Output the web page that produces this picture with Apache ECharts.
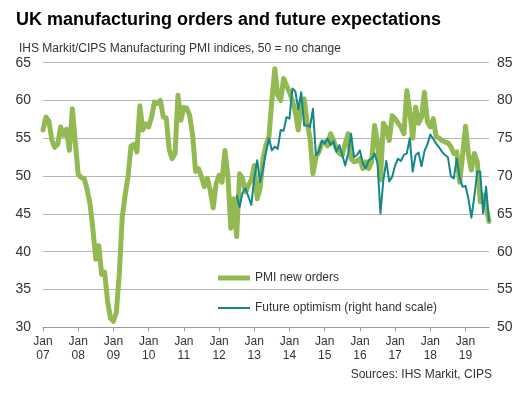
<!DOCTYPE html>
<html>
<head>
<meta charset="utf-8">
<script src="https://cdn.jsdelivr.net/npm/echarts@6/dist/echarts.min.js"></script>
<style>
  html, body { margin: 0; padding: 0; background: #ffffff; }
  #chart { width: 526px; height: 394px; }
</style>
</head>
<body>
<div id="chart"></div>
<script>
// ---- Data (monthly, Jan 2007 - Sep 2019) ----
const startYear = 2007;
const monthCount = 153;

const leftTicks = [30, 35, 40, 45, 50, 55, 60, 65];
const rightTicks = [50, 55, 60, 65, 70, 75, 80, 85];

const seriesNames = ['PMI new orders', 'Future optimism (right hand scale)'];

// PMI new orders index (left scale), Jan 2007 onward
const pmiNewOrders = [
  56.1, 57.8, 57.3, 54.8, 53.8, 54.2, 56.5, 55.4, 56.2, 53.4, 58.9, 54.5,
  50.2, 49.8, 49.7, 48.3, 46.4, 43.0, 39.0, 40.8, 37.0, 37.3, 33.5, 31.2,
  30.8, 32.0, 37.0, 44.5, 47.5, 50.0, 54.0, 54.2, 53.2, 59.3, 56.1, 56.9,
  56.5, 57.8, 59.8, 59.6, 60.0, 57.8, 57.7, 53.5, 52.3, 53.0, 60.7, 57.4,
  59.1, 59.0, 58.0, 55.4, 50.6, 51.0, 49.9, 48.6, 49.7, 48.1, 45.8, 49.0,
  50.1, 49.2, 53.4, 50.1, 43.1, 47.0, 42.0, 50.3, 49.7, 47.9, 48.8, 49.5,
  51.4, 47.0, 48.4, 52.3, 54.1, 55.2, 60.0, 64.2, 60.7, 60.0, 62.9, 62.0,
  61.1, 60.0, 58.5, 56.1, 59.8, 60.2, 57.2, 55.0, 50.3, 52.5, 53.2, 54.3,
  54.5, 54.0, 55.6, 54.7, 53.6, 53.0, 52.8, 54.3, 55.6, 52.3, 51.9, 52.0,
  52.3, 51.0, 51.9, 51.0, 51.9, 56.7, 54.5, 49.5, 57.0, 56.3, 54.7, 58.0,
  57.6, 57.0, 56.5, 55.6, 61.3, 58.5, 55.0, 59.1, 57.0, 57.8, 61.1, 57.2,
  56.5, 57.6, 55.2, 55.0, 54.7, 54.5, 54.4, 53.9, 53.0, 53.2, 49.2, 52.8,
  56.6, 52.8, 50.8, 53.0, 51.9, 46.6, 47.5, 46.0, 44.0
];

// Future optimism index (right scale), starting Jul 2012
const futureStartYear = 2012;
const futureStartMonth = 7;
const futureOptimism = [
  67.5, 65.9, 67.8, 68.4, 67.3, 66.2,
  69.7, 72.1, 69.2, 71.0, 73.2, 75.0, 73.4, 73.9, 73.6, 76.1, 76.0, 77.8,
  77.6, 81.6, 81.2, 78.8, 81.1, 76.7, 76.7, 76.5, 78.9, 72.8, 73.2, 74.7,
  74.3, 75.0, 74.1, 74.6, 73.2, 74.1, 72.8, 71.4, 73.0, 75.6, 72.5, 72.8,
  73.4, 71.7, 71.0, 72.1, 72.3, 73.0, 71.7, 65.1, 69.5, 72.0, 69.3, 69.9,
  71.4, 72.3, 72.0, 72.8, 73.0, 75.0, 70.6, 72.8, 73.1, 71.3, 73.3, 74.2,
  75.5, 74.9, 74.3, 73.8, 73.2, 72.8, 72.5, 70.0, 69.7, 72.3, 69.8, 68.6,
  68.7, 67.0, 64.5, 67.3, 70.6, 70.6, 65.1, 68.6, 64.0
];

// ---- Build categories ----
const months = [];
for (let i = 0; i < monthCount; i++) {
  const y = startYear + Math.floor(i / 12);
  const m = (i % 12) + 1;
  months.push(y + '-' + (m < 10 ? '0' + m : m));
}
const futureOffset = (futureStartYear - startYear) * 12 + (futureStartMonth - 1);
const futureData = new Array(futureOffset).fill(null).concat(futureOptimism);

const FONT = "'Liberation Sans', Arial, Helvetica, sans-serif";
const janOnly = function (index) { return index % 12 === 0; };
const GREEN = '#93b953';
const TEAL = '#14878a';

const chart = echarts.init(document.getElementById('chart'), null, { renderer: 'canvas' });

chart.setOption({
  animation: false,
  backgroundColor: '#ffffff',
  textStyle: { fontFamily: FONT },
  title: [
    {
      text: 'UK manufacturing orders and future expectations',
      left: 11, top: 6,
      textStyle: { fontFamily: FONT, fontSize: 18, fontWeight: 'bold', color: '#000000' }
    },
    {
      text: 'IHS Markit/CIPS Manufacturing PMI indices, 50 = no change',
      left: 14, top: 38,
      textStyle: { fontFamily: FONT, fontSize: 12, fontWeight: 'normal', color: '#333333' }
    },
    {
      text: 'Sources: IHS Markit, CIPS',
      right: 29, top: 364,
      textStyle: { fontFamily: FONT, fontSize: 12, fontWeight: 'normal', color: '#333333' }
    }
  ],
  legend: [
    {
      data: [{ name: seriesNames[0], icon: 'rect', itemStyle: { color: GREEN } }],
      left: 213, top: 267,
      itemWidth: 32, itemHeight: 5, itemGap: 2,
      textStyle: { fontFamily: FONT, fontSize: 12, color: '#333333' }
    },
    {
      data: [{ name: seriesNames[1], icon: 'rect', itemStyle: { color: TEAL } }],
      left: 213, top: 297,
      itemWidth: 32, itemHeight: 2, itemGap: 2,
      textStyle: { fontFamily: FONT, fontSize: 12, color: '#333333' }
    }
  ],
  grid: { left: 43, right: 37, top: 62.7, bottom: 66.7, containLabel: false },
  xAxis: {
    type: 'category',
    data: months,
    boundaryGap: false,
    axisLine: { show: true, lineStyle: { color: '#9a9a9a', width: 1 } },
    axisTick: { show: true, interval: janOnly, length: 4, lineStyle: { color: '#9a9a9a' } },
    axisLabel: {
      interval: janOnly,
      margin: 7,
      fontFamily: FONT, fontSize: 12, color: '#333333', lineHeight: 14,
      formatter: function (v) { return 'Jan\n' + v.slice(2, 4); }
    },
    splitLine: { show: false }
  },
  yAxis: [
    {
      type: 'value', min: leftTicks[0], max: leftTicks[leftTicks.length - 1], interval: 5,
      axisLine: { show: false }, axisTick: { show: false },
      axisLabel: { fontFamily: FONT, fontSize: 14, color: '#333333', margin: 12 },
      splitLine: { show: true, lineStyle: { color: '#b5b5b5', width: 1 } }
    },
    {
      type: 'value', min: rightTicks[0], max: rightTicks[rightTicks.length - 1], interval: 5,
      position: 'right',
      axisLine: { show: false }, axisTick: { show: false },
      axisLabel: { fontFamily: FONT, fontSize: 14, color: '#333333', margin: 8 },
      splitLine: { show: false }
    }
  ],
  series: [
    {
      name: seriesNames[0], type: 'line', yAxisIndex: 0,
      data: pmiNewOrders, symbol: 'none', smooth: false,
      lineStyle: { color: GREEN, width: 5, cap: 'round', join: 'round' },
      itemStyle: { color: GREEN }
    },
    {
      name: seriesNames[1], type: 'line', yAxisIndex: 1,
      data: futureData, symbol: 'none', smooth: false, connectNulls: false,
      lineStyle: { color: TEAL, width: 2, join: 'round' },
      itemStyle: { color: TEAL }
    }
  ]
});
</script>
</body>
</html>
